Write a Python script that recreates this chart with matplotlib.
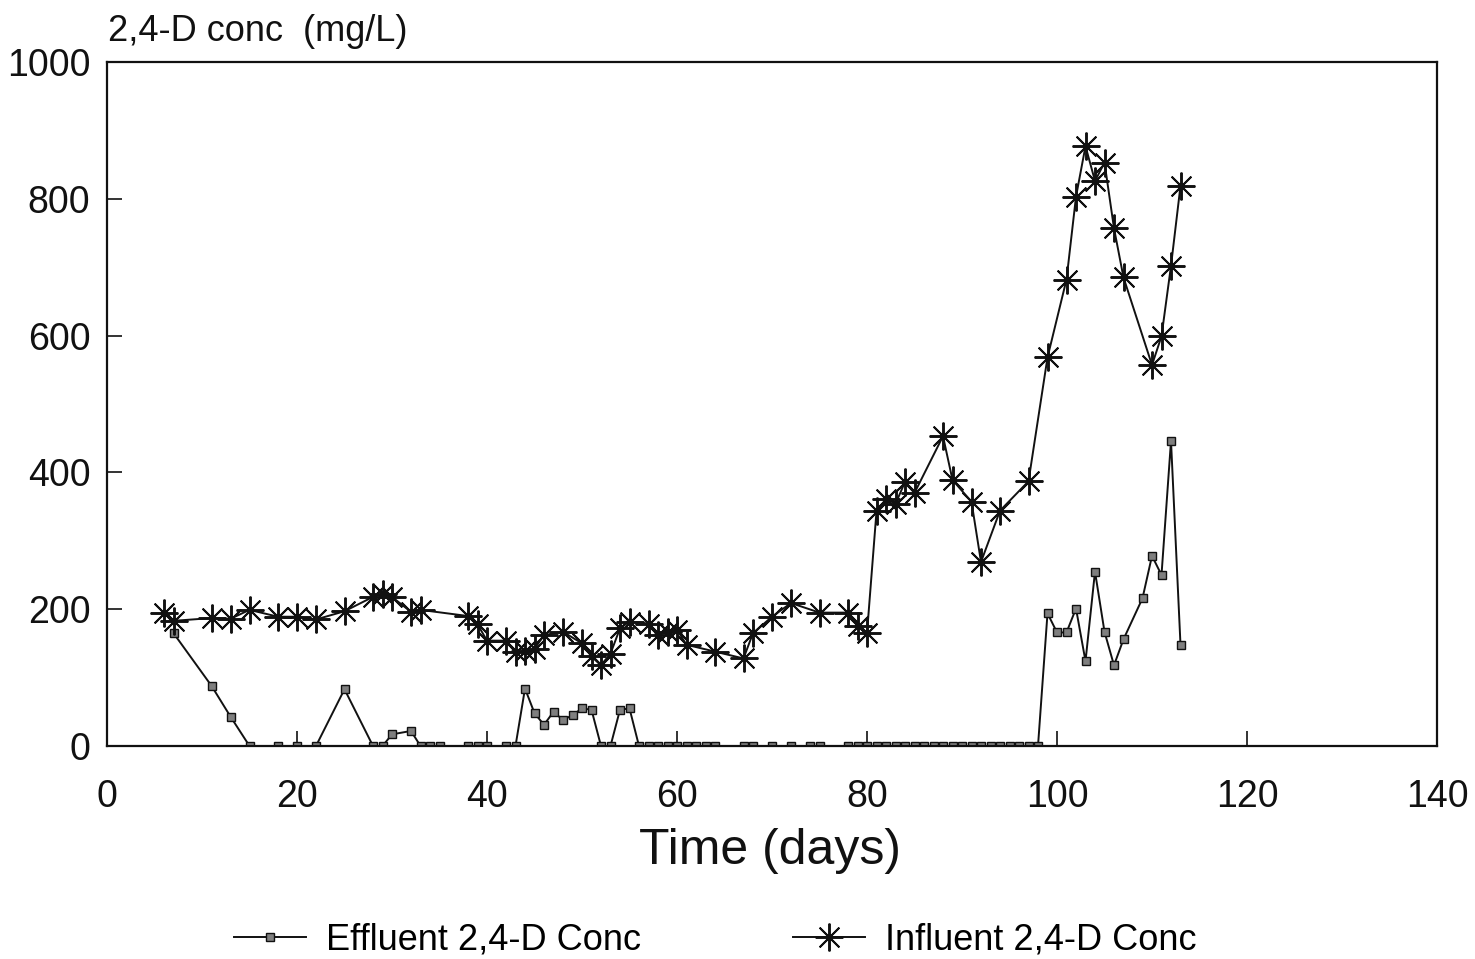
import matplotlib
matplotlib.use("Agg")
import matplotlib.pyplot as plt
from matplotlib.lines import Line2D

plt.rcParams["font.family"] = ["Liberation Sans", "DejaVu Sans"]

# Influent 2,4-D concentration (mg/L)
influent_days = [6, 7, 11, 13, 15, 18, 20, 22, 25, 28, 29, 30, 32, 33, 38, 39, 40,
                 42, 43, 44, 45, 46, 48, 50, 51, 52, 53, 54, 55, 57, 58, 59, 60, 61,
                 64, 67, 68, 70, 72, 75, 78, 79, 80, 81, 82, 83, 84, 85, 88, 89, 91,
                 92, 94, 97, 99, 101, 102, 103, 104, 105, 106, 107, 110, 111, 112, 113]
influent_conc = [195, 183, 187, 186, 199, 189, 189, 185, 197, 218, 222, 218, 196, 199,
                 190, 178, 154, 154, 137, 139, 142, 162, 167, 150, 131, 118, 135, 172,
                 182, 179, 162, 167, 170, 148, 138, 128, 165, 189, 209, 195, 195, 176,
                 165, 343, 361, 354, 386, 370, 453, 389, 357, 269, 344, 387, 568, 682,
                 803, 877, 826, 853, 757, 685, 557, 599, 702, 819]

# Effluent 2,4-D concentration (mg/L)
effluent_days = [7, 11, 13, 15, 18, 20, 22, 25, 28, 29, 30, 32, 33, 34, 35, 38, 39,
                 40, 42, 43, 44, 45, 46, 47, 48, 49, 50, 51, 52, 53, 54, 55, 56, 57,
                 58, 59, 60, 61, 62, 63, 64, 67, 68, 70, 72, 74, 75, 78, 79, 80, 81,
                 82, 83, 84, 85, 86, 87, 88, 89, 90, 91, 92, 93, 94, 95, 96, 97, 98,
                 99, 100, 101, 102, 103, 104, 105, 106, 107, 109, 110, 111, 112, 113]
effluent_conc = [165, 88, 43, 0, 0, 0, 0, 83, 0, 0, 17, 22, 0, 0, 0, 0, 0,
                 0, 0, 0, 84, 48, 31, 50, 38, 45, 55, 53, 0, 0, 53, 55, 0, 0,
                 0, 0, 0, 0, 0, 0, 0, 0, 0, 0, 0, 0, 0, 0, 0, 0, 0,
                 0, 0, 0, 0, 0, 0, 0, 0, 0, 0, 0, 0, 0, 0, 0, 0, 0,
                 194, 166, 166, 201, 124, 255, 167, 118, 156, 216, 278, 250, 446, 148]

x_ticks = [0, 20, 40, 60, 80, 100, 120, 140]
y_ticks = [0, 200, 400, 600, 800, 1000]

INK = "#111111"

fig = plt.figure(figsize=(14.75, 9.59), dpi=100)
ax = fig.add_axes([107 / 1475, 1 - 746 / 959, 1330 / 1475, 684 / 959])

eff_style = dict(color=INK, lw=1.4, marker="s", ms=5.5, mfc="#7f7f7f",
                 mec=INK, mew=1.0)
inf_style = dict(color=INK, lw=1.4, marker=(8, 2, 0), ms=20, mec=INK, mew=1.4)

ax.plot(effluent_days, effluent_conc, **eff_style)
ax.plot(influent_days, influent_conc, **inf_style)

ax.set_xlim(0, 140)
ax.set_ylim(0, 1000)
ax.set_xticks(x_ticks)
ax.set_yticks(y_ticks)
ax.tick_params(direction="in", length=11, width=1.2, colors=INK,
               labelsize=27, top=False, right=False)
ax.tick_params(axis="x", pad=24)
ax.tick_params(axis="y", pad=12)
for spine in ax.spines.values():
    spine.set_linewidth(1.6)
    spine.set_color(INK)

# titulo de eje x colocado a mano para que caiga donde en el original
ax.set_xlabel("Time (days)", fontsize=36, color=INK)
ax.xaxis.set_label_coords(0.4985, -0.12)
fig.text(108 / 1475, 1 - 41 / 959, "2,4-D conc  (mg/L)", fontsize=26,
         color=INK, ha="left", va="baseline")

handles = [Line2D([], [], **eff_style), Line2D([], [], **inf_style)]
labels = ["Effluent 2,4-D Conc", "Influent 2,4-D Conc"]
fig.legend(handles, labels, loc="center", bbox_to_anchor=(0.485, 0.020),
           ncol=2, frameon=False, fontsize=26, handlelength=2.0,
           handletextpad=0.55, columnspacing=4.2, borderpad=0)

fig.savefig("out.png", dpi=100)
